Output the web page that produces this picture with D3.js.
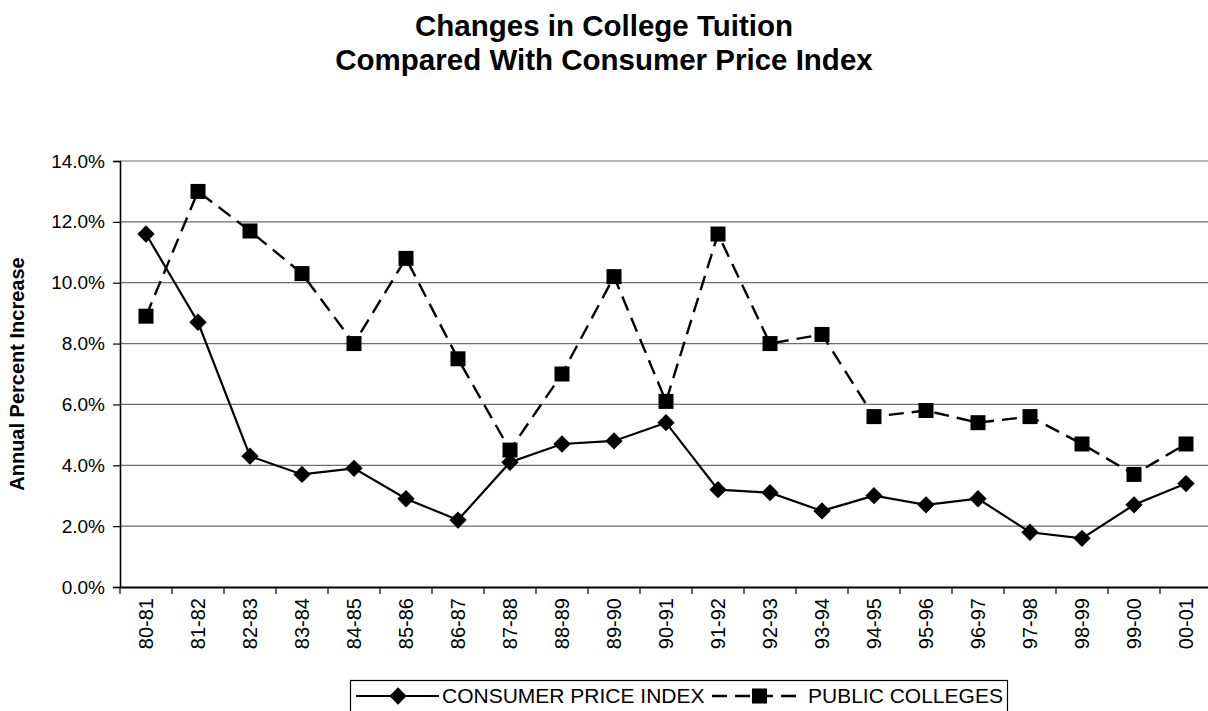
<!DOCTYPE html>
<html><head><meta charset="utf-8">
<script src="https://cdn.jsdelivr.net/npm/d3@7"></script>
<style>
html,body{margin:0;padding:0;background:#fff;}
svg{display:block;font-family:"Liberation Sans",Arial,sans-serif;}
</style></head>
<body>
<svg id="chart" width="1208" height="711"></svg>
<script>
const categories = ["80-81","81-82","82-83","83-84","84-85","85-86","86-87","87-88","88-89","89-90","90-91","91-92","92-93","93-94","94-95","95-96","96-97","97-98","98-99","99-00","00-01"];
const cpiValues = [11.6,8.7,4.3,3.7,3.9,2.9,2.2,4.1,4.7,4.8,5.4,3.2,3.1,2.5,3.0,2.7,2.9,1.8,1.6,2.7,3.4];
const publicValues = [8.9,13.0,11.7,10.3,8.0,10.8,7.5,4.5,7.0,10.2,6.1,11.6,8.0,8.3,5.6,5.8,5.4,5.6,4.7,3.7,4.7];
const yTicks = [0,2,4,6,8,10,12,14];
const titleLines = ["Changes in College Tuition","Compared With Consumer Price Index"];
const yLabel = "Annual Percent Increase";
const seriesNames = ["CONSUMER PRICE INDEX","PUBLIC COLLEGES"];

const svg = d3.select("#chart");
const pLeft = 120, pRight = 1212, pTop = 161, pBottom = 587;

const x = d3.scaleBand().domain(categories).range([pLeft, pRight]).padding(0);
const y = d3.scaleLinear().domain([0,14]).range([pBottom, pTop]);

// title
svg.append("g").selectAll("text").data(titleLines).join("text")
  .attr("x", 604).attr("y", (d,i)=>36 + i*34)
  .attr("text-anchor","middle").attr("font-weight","bold").attr("font-size",29.5)
  .text(d=>d);

// gridlines
svg.append("g").selectAll("line").data(yTicks.filter(d=>d>0)).join("line")
  .attr("x1", pLeft).attr("x2", pRight).attr("y1", d=>y(d)).attr("y2", d=>y(d))
  .attr("stroke","#6e6e6e").attr("stroke-width",1.2);

// y axis
const yAxis = d3.axisLeft(y).tickValues(yTicks).tickFormat(d=>d3.format(".1f")(d)+"%").tickSize(7).tickPadding(8);
const gy = svg.append("g").attr("transform",`translate(${pLeft},0)`).call(yAxis);
gy.select(".domain").attr("stroke","#000").attr("stroke-width",1.6);
gy.selectAll(".tick line").attr("stroke","#000").attr("stroke-width",1.2);
gy.selectAll(".tick text").attr("font-size",19).attr("font-family","Liberation Sans, Arial, sans-serif").attr("fill","#000");

// x axis
const xAxis = d3.axisBottom(x).tickSize(0).tickPadding(0);
const gx = svg.append("g").attr("transform",`translate(0,${pBottom})`).call(xAxis);
gx.select(".domain").attr("stroke","#000").attr("stroke-width",2);
gx.selectAll(".tick text").remove();
svg.append("g").selectAll("line").data(d3.range(categories.length+1)).join("line")
  .attr("x1", i=>pLeft + i*x.step()).attr("x2", i=>pLeft + i*x.step())
  .attr("y1", pBottom).attr("y2", pBottom+7)
  .attr("stroke","#000").attr("stroke-width",1.2);
svg.append("g").selectAll("text").data(categories).join("text")
  .attr("transform", d=>`translate(${x(d)+x.bandwidth()/2+7},${pBottom+11}) rotate(-90)`)
  .attr("text-anchor","end").attr("font-size",20).text(d=>d);

// y label
svg.append("text").attr("transform",`translate(24,${(pTop+pBottom)/2}) rotate(-90)`)
  .attr("text-anchor","middle").attr("font-weight","bold").attr("font-size",20).text(yLabel);

const cx = d => x(d) + x.bandwidth()/2;
const line = d3.line().x(d=>cx(d.c)).y(d=>y(d.v));
const pubData = categories.map((c,i)=>({c, v: publicValues[i]}));
const cpiData = categories.map((c,i)=>({c, v: cpiValues[i]}));

svg.append("path").datum(pubData).attr("d", line).attr("fill","none")
  .attr("stroke","#000").attr("stroke-width",2.4).attr("stroke-dasharray","15,8");
svg.append("g").selectAll("rect").data(pubData).join("rect")
  .attr("x", d=>cx(d.c)-7.5).attr("y", d=>y(d.v)-7.5).attr("width",15).attr("height",15).attr("fill","#000");

svg.append("path").datum(cpiData).attr("d", line).attr("fill","none")
  .attr("stroke","#000").attr("stroke-width",2.2);
const diamond = d3.symbol().type(d3.symbolSquare).size(150);
svg.append("g").selectAll("path").data(cpiData).join("path")
  .attr("d", diamond).attr("transform", d=>`translate(${cx(d.c)},${y(d.v)}) rotate(45)`).attr("fill","#000");

// legend
const lg = svg.append("g");
lg.append("rect").attr("x",350.5).attr("y",680.5).attr("width",657).attr("height",40)
  .attr("fill","#fff").attr("stroke","#000").attr("stroke-width",1.2);
const ly = 696;
lg.append("line").attr("x1",356).attr("x2",439).attr("y1",ly).attr("y2",ly).attr("stroke","#000").attr("stroke-width",2.2);
lg.append("path").attr("d",diamond).attr("transform",`translate(398,${ly}) rotate(45)`).attr("fill","#000");
lg.append("text").attr("x",442).attr("y",ly+7).attr("font-size",21).text(seriesNames[0]);
lg.append("line").attr("x1",712).attr("x2",800).attr("y1",ly).attr("y2",ly).attr("stroke","#000").attr("stroke-width",2.4).attr("stroke-dasharray","15,8");
lg.append("rect").attr("x",752).attr("y",ly-7.5).attr("width",15).attr("height",15).attr("fill","#000");
lg.append("text").attr("x",808).attr("y",ly+7).attr("font-size",21).text(seriesNames[1]);
</script>
</body></html>
